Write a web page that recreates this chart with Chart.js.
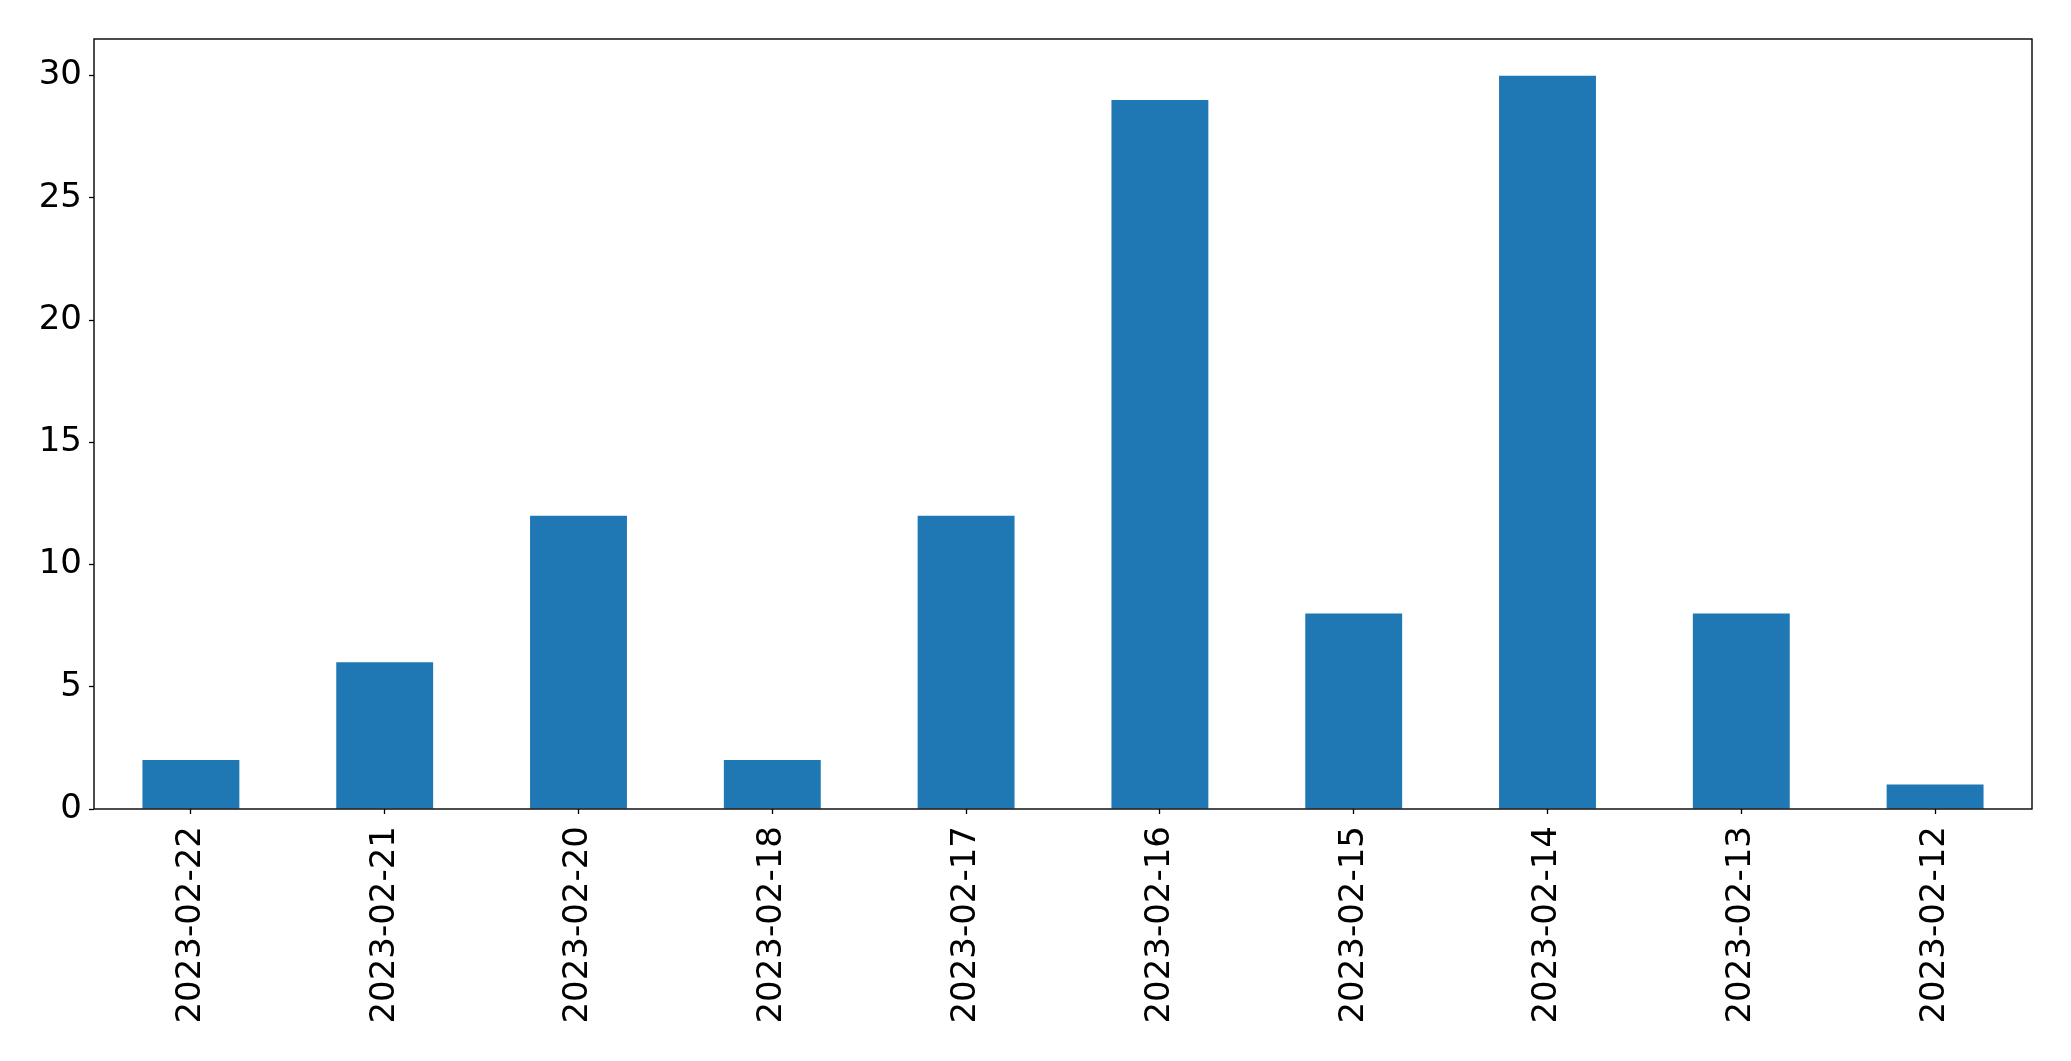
<!DOCTYPE html>
<html>
<head>
<meta charset="utf-8">
<script src="https://cdn.jsdelivr.net/npm/chart.js@4/dist/chart.umd.min.js"></script>
<style>
html,body{margin:0;padding:0;background:#fff;}
#wrap{width:2071px;height:1061px;position:relative;}
</style>
</head>
<body>
<div id="wrap"><canvas id="c" width="2071" height="1061"></canvas></div>
<script>
const categories = ["2023-02-22","2023-02-21","2023-02-20","2023-02-18","2023-02-17","2023-02-16","2023-02-15","2023-02-14","2023-02-13","2023-02-12"];
const counts = [2,6,12,2,12,29,8,30,8,1];
const yTicks = [0,5,10,15,20,25,30];
const yMax = 31.5;

const frame = {
  id: 'frame',
  afterDatasetsDraw(chart){
    const a = chart.chartArea, ctx = chart.ctx;
    ctx.save();
    ctx.strokeStyle = '#000';
    ctx.lineWidth = 1.4;
    ctx.strokeRect(a.left, a.top, a.right - a.left, a.bottom - a.top);
    ctx.restore();
  }
};

new Chart(document.getElementById('c'), {
  type: 'bar',
  data: {
    labels: categories,
    datasets: [{
      data: counts,
      backgroundColor: '#1f77b4',
      borderWidth: 0,
      categoryPercentage: 1.0,
      barPercentage: 0.5
    }]
  },
  options: {
    responsive: false,
    animation: false,
    layout: { padding: { top: 39, right: 39, left: 0, bottom: 0 } },
    plugins: { legend: { display: false }, tooltip: { enabled: false } },
    scales: {
      x: {
        offset: true,
        grid: { display: true, drawOnChartArea: false, offset: false, tickLength: 5, tickColor: '#000', tickWidth: 1.3 },
        border: { display: false },
        ticks: {
          color: '#000', font: { family: 'DejaVu Sans', size: 34 },
          maxRotation: 90, minRotation: 90, padding: 12, autoSkip: false
        },
        afterFit(s){ s.height = 252; }
      },
      y: {
        min: 0, max: yMax,
        grid: { display: true, drawOnChartArea: false, tickLength: 5, tickColor: '#000', tickWidth: 1.3 },
        border: { display: false },
        ticks: { color: '#000', font: { family: 'DejaVu Sans', size: 34 }, padding: 7 },
        afterBuildTicks(s){ s.ticks = yTicks.map(v => ({ value: v })); },
        afterFit(s){ s.width = 94; }
      }
    }
  },
  plugins: [frame]
});
</script>
</body>
</html>
